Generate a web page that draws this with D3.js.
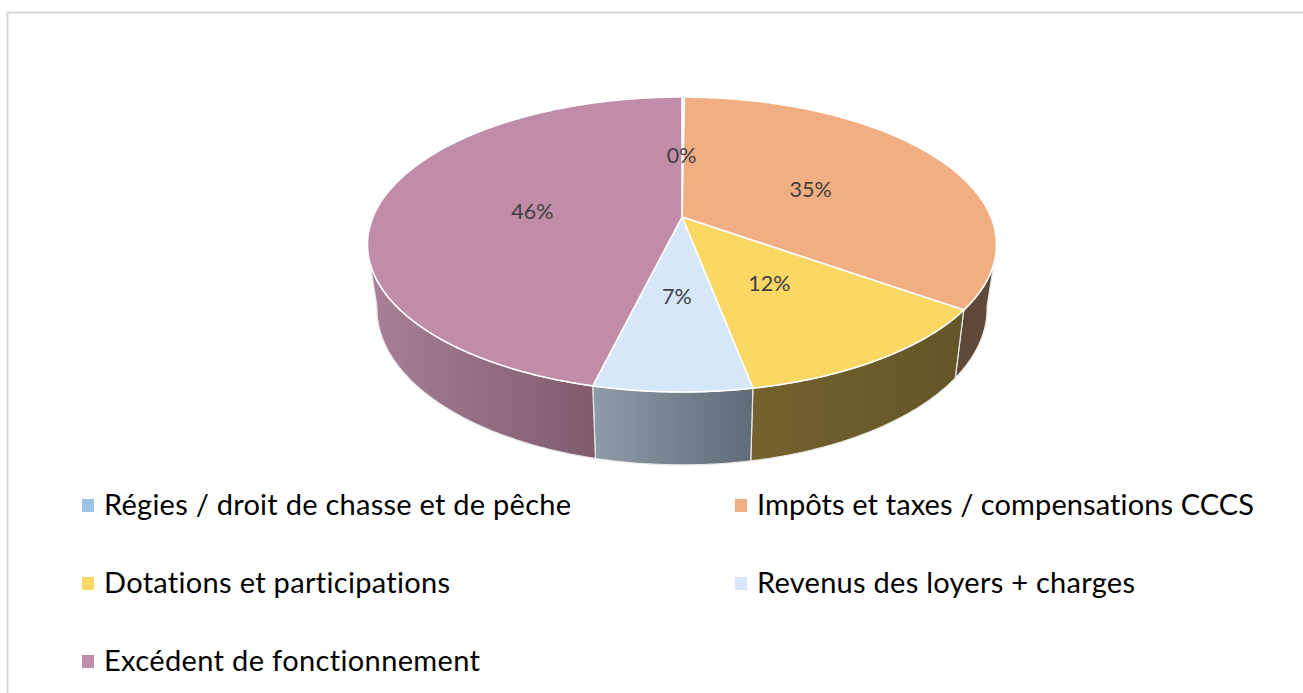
<!DOCTYPE html>
<html>
<head>
<meta charset="utf-8">
<script src="https://cdn.jsdelivr.net/npm/d3@7"></script>
<style>
  body { margin: 0; background: #fff; }
  text { font-family: Lato, "Open Sans", sans-serif; font-variant-ligatures: none; }
</style>
</head>
<body>
<script>
(() => {
    // valeurs (en %)
    const categories = [
        "Régies / droit de chasse et de pêche",
        "Impôts et taxes / compensations CCCS",
        "Dotations et participations",
        "Revenus des loyers + charges",
        "Excédent de fonctionnement"
    ];
    const values = [0.15, 34.75, 12.1, 6.8, 46.2];

    const topColors = ["#9dc3e6", "#f1ae82", "#fbd764", "#d6e7fa", "#c18ca8"];
    const sideLeft = ["#5f7f9e", "#5f4939", "#74622e", "#8f9ca8", "#a98096"];
    const sideRight = ["#5f7f9e", "#5f4838", "#645629", "#5f6b76", "#7f5a6d"];

    // largeur des libelles de legende dans le graphique d'origine
    const legendWidths = [467, 497, 346, 378, 376];

    const w = 1303, h = 693;

    const svg = d3.select("body").append("svg")
        .attr("width", w).attr("height", h)
        .style("display", "block");

    // cadre du graphique, coupe a droite et en bas
    svg.append("path")
        .attr("d", "M7.5," + h + "V12.5H" + w)
        .attr("fill", "none")
        .attr("stroke", "#d9d9d9")
        .attr("stroke-width", 2);

    // perspective du disque: apex en (682,217)
    const cx = 682, cy = 217, R = 309, persp = -0.1864, tilt = 101.9;
    const sideScaleX = 0.97, sideScaleY = 1.06, sideShiftY = 49.4;

    function project(angle, f) {
        const u = Math.sin(angle) * f,
            v = -Math.cos(angle) * f,
            d = 1 + persp * v;
        return [cx + R * u / d, (tilt * v + cy) / d];
    }

    function projectBottom(angle) {
        const p = project(angle, 1);
        return [cx + sideScaleX * (p[0] - cx), sideShiftY + sideScaleY * p[1]];
    }

    function arcAngles(a0, a1) {
        const n = Math.max(2, Math.ceil(Math.abs(a1 - a0) / 0.01));
        return d3.range(n + 1).map(i => a0 + (a1 - a0) * i / n);
    }

    const line = d3.line();
    const pie = d3.pie().sort(null).value(d => d)(values);
    const rad = d => d * Math.PI / 180;

    // partie visible du flanc
    const visibleFrom = rad(108), visibleTo = rad(252), overshoot = rad(8);

    const defs = svg.append("defs");
    const sides = svg.append("g");

    pie.forEach((s, i) => {
        const a0 = Math.max(s.startAngle, visibleFrom),
            a1 = Math.min(s.endAngle, visibleTo);
        if (a1 <= a0) return;

        // le bas du flanc deborde un peu pour suivre la silhouette
        const b0 = a0 === visibleFrom ? a0 - overshoot : a0,
            b1 = a1 === visibleTo ? a1 + overshoot : a1;
        const pts = arcAngles(a0, a1).map(a => project(a, 1))
            .concat(arcAngles(b1, b0).map(projectBottom));

        const grad = defs.append("linearGradient")
            .attr("id", "side" + i)
            .attr("gradientUnits", "userSpaceOnUse")
            .attr("x1", d3.min(pts, p => p[0])).attr("x2", d3.max(pts, p => p[0]))
            .attr("y1", 0).attr("y2", 0);
        grad.append("stop").attr("offset", 0).attr("stop-color", sideLeft[i]);
        grad.append("stop").attr("offset", 1).attr("stop-color", sideRight[i]);

        sides.append("path")
            .attr("d", line(pts) + "Z")
            .attr("fill", "url(#side" + i + ")")
            .attr("stroke", "#e8e8e8")
            .attr("stroke-width", 1.2)
            .attr("stroke-linejoin", "round");
    });

    // dessus du disque
    const tops = svg.append("g");
    pie.forEach((s, i) => {
        const pts = [[cx, cy]].concat(arcAngles(s.startAngle, s.endAngle).map(a => project(a, 1)));
        tops.append("path")
            .attr("d", line(pts) + "Z")
            .attr("fill", topColors[i])
            .attr("stroke", "#fff")
            .attr("stroke-width", 1.6)
            .attr("stroke-linejoin", "round");
    });

    // etiquettes de pourcentage
    const total = d3.sum(values);
    const pct = d3.format(".0%");
    svg.append("g").selectAll("text").data(pie).enter().append("text")
        .attr("x", d => project((d.startAngle + d.endAngle) / 2, 0.49)[0] - 1)
        .attr("y", d => project((d.startAngle + d.endAngle) / 2, 0.49)[1] + 10)
        .attr("text-anchor", "middle")
        .attr("font-size", 21.5)
        .attr("fill", "#404040")
        .text(d => pct(d.value / total));

    // legende sur deux colonnes
    const legendX = d3.scaleOrdinal().domain([0, 1]).range([82, 735]);
    const legendY = d3.scalePoint().domain([0, 1, 2]).range([505, 661]);

    const legend = svg.append("g").selectAll("g").data(categories).enter().append("g")
        .attr("transform", (d, i) => "translate(" + [legendX(i % 2), legendY(Math.floor(i / 2))] + ")");
    legend.append("rect")
        .attr("x", 0).attr("y", -6)
        .attr("width", 12).attr("height", 13)
        .attr("fill", (d, i) => topColors[i]);
    legend.append("text")
        .attr("x", 22).attr("y", 10)
        .attr("font-size", 29)
        .attr("textLength", (d, i) => legendWidths[i])
        .attr("lengthAdjust", "spacing")
        .attr("fill", "#000")
        .text(d => d);
})();
</script>
</body>
</html>
